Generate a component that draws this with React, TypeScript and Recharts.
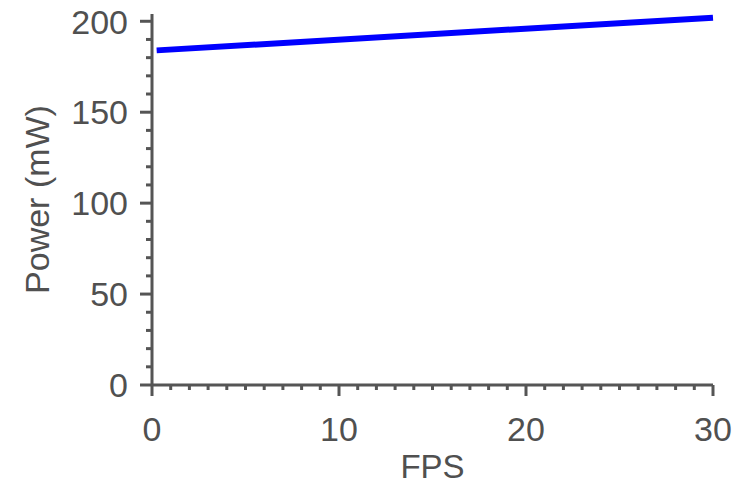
import { LineChart, Line, XAxis, YAxis, Label } from 'recharts'

const fps = [0.25, 30]
const power = [184, 202]
const xTicks = Array.from({ length: 31 }, (_, i) => i)
const yTicks = Array.from({ length: 21 }, (_, i) => i * 10)

const data = fps.map((f, i) => ({ fps: f, power: power[i] }))

const AXIS = '#555'
const TEXT = '#505050'
const FONT = 'Liberation Sans, Arial, sans-serif'

const XTick = ({ x, y, payload }: any) => {
  const major = payload.value % 10 === 0
  return (
    <g>
      <line x1={x} x2={x} y1={y} y2={y + (major ? 11 : 5)} stroke={AXIS} strokeWidth={3} />
      {major && (
        <text x={x} y={y + 56} textAnchor="middle" fontSize={34} fill={TEXT} fontFamily={FONT}>
          {payload.value}
        </text>
      )}
    </g>
  )
}

const YTick = ({ x, y, payload }: any) => {
  const major = payload.value % 50 === 0
  return (
    <g>
      <line x1={x} x2={x - (major ? 12 : 6)} y1={y} y2={y} stroke={AXIS} strokeWidth={3} />
      {major && (
        <text x={x - 24} y={y} dy="0.36em" textAnchor="end" fontSize={34} fill={TEXT} fontFamily={FONT}>
          {payload.value}
        </text>
      )}
    </g>
  )
}

const YLabel = ({ viewBox }: any) => {
  const cx = viewBox.x + 37
  const cy = viewBox.y + viewBox.height / 2
  return (
    <text x={cx} y={cy} dy="0.36em" transform={`rotate(-90 ${cx} ${cy})`} textAnchor="middle"
      fontSize={34} fill={TEXT} fontFamily={FONT}>
      Power (mW)
    </text>
  )
}

export default function App() {
  return (
    <div style={{ position: 'absolute', left: 0, top: 0, background: '#fff' }}>
      <LineChart width={749} height={485} data={data} margin={{ top: 14, right: 36, left: 0, bottom: 0 }}>
        <XAxis dataKey="fps" type="number" domain={[0, 30]} ticks={xTicks} interval={0} height={100}
          tickSize={0} tickMargin={0} tickLine={false} tick={<XTick />}
          axisLine={{ stroke: AXIS, strokeWidth: 3 }}>
          <Label value="FPS" position="insideBottom" offset={7} fontSize={33} fill={TEXT} fontFamily={FONT} />
        </XAxis>
        <YAxis type="number" domain={[0, 204]} ticks={yTicks} interval={0} width={152}
          tickSize={0} tickMargin={0} tickLine={false} tick={<YTick />}
          axisLine={{ stroke: AXIS, strokeWidth: 3 }}>
          <Label content={<YLabel />} />
        </YAxis>
        <Line type="linear" dataKey="power" stroke="#0000ff" strokeWidth={6} dot={false}
          isAnimationActive={false} />
      </LineChart>
    </div>
  )
}
